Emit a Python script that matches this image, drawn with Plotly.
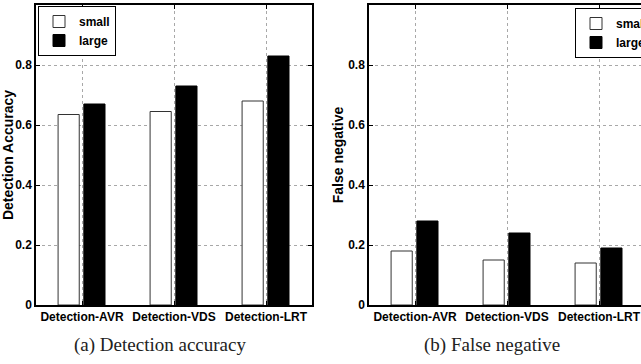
import plotly.graph_objects as go

categories = ["Detection-AVR", "Detection-VDS", "Detection-LRT"]
cat_pos = [1, 2, 3]
acc_small = [0.635, 0.645, 0.68]
acc_large = [0.67, 0.73, 0.83]
fn_small = [0.18, 0.15, 0.14]
fn_large = [0.28, 0.24, 0.19]
y_ticks = [0, 0.2, 0.4, 0.6, 0.8, 1]
y_tick_labels = ["0", "0.2", "0.4", "0.6", "0.8", "1"]

W, H = 641, 364
SANS = "Liberation Sans, Arial, Helvetica, sans-serif"
TFONT = dict(family=SANS, size=12, color="black", weight="bold")
TITLEFONT = dict(family=SANS, size=14, color="black", weight="bold")
CAPFONT = dict(family="Liberation Serif, Times New Roman, serif", size=19, color="#222")

def px_x(p):
    return p / W

def px_y(p):
    return 1 - p / H

fig = go.Figure()

bw = 0.23
fig.add_trace(go.Bar(x=cat_pos, y=acc_small, name="small", width=bw, offset=-0.26,
                     marker=dict(color="white", line=dict(color="#333", width=1)),
                     xaxis="x", yaxis="y", legend="legend"))
fig.add_trace(go.Bar(x=cat_pos, y=acc_large, name="large", width=bw, offset=0.02,
                     marker=dict(color="black", line=dict(color="black", width=1)),
                     xaxis="x", yaxis="y", legend="legend"))
fig.add_trace(go.Bar(x=cat_pos, y=fn_small, name="small", width=bw, offset=-0.26,
                     marker=dict(color="white", line=dict(color="#333", width=1)),
                     xaxis="x2", yaxis="y2", legend="legend2"))
fig.add_trace(go.Bar(x=cat_pos, y=fn_large, name="large", width=bw, offset=0.02,
                     marker=dict(color="black", line=dict(color="black", width=1)),
                     xaxis="x2", yaxis="y2", legend="legend2"))

grid = dict(showgrid=True, gridcolor="#a8a8a8", griddash="dot", gridwidth=1)

common_x = dict(tickvals=cat_pos, ticktext=categories, tickfont=TFONT, showline=True,
                linecolor="black", linewidth=1.5, ticks="inside", ticklen=4, tickcolor="black",
                zeroline=False, tickangle=0, automargin=False, **grid)
common_y = dict(range=[0, 1], tickvals=y_ticks, ticktext=y_tick_labels, tickfont=TFONT,
                showline=True, linecolor="black", linewidth=1.5, ticks="inside", ticklen=4,
                tickcolor="black", zeroline=False, automargin=False, **grid)

y_dom = [px_y(305), px_y(5)]

fig.update_layout(
    width=W, height=H,
    margin=dict(l=0, r=0, t=0, b=0, autoexpand=False),
    paper_bgcolor="white", plot_bgcolor="white",
    barmode="overlay",
    xaxis=dict(domain=[px_x(36), px_x(312)], range=[0.5, 3.5], mirror="allticks",
               anchor="y", **common_x),
    yaxis=dict(domain=y_dom, anchor="x", mirror="allticks",
               title=dict(text="Detection Accuracy", font=TITLEFONT, standoff=3),
               **common_y),
    xaxis2=dict(domain=[px_x(369), 1], range=[0.5, 0.5 + (641 - 369) / 92.0], mirror="allticks",
                anchor="y2", **common_x),
    yaxis2=dict(domain=y_dom, anchor="x2", mirror=False,
                title=dict(text="False negative", font=TITLEFONT, standoff=1),
                **common_y),
    legend=dict(x=px_x(38), y=px_y(6), xanchor="left", yanchor="top",
                bordercolor="black", borderwidth=1, bgcolor="white",
                font=TFONT, tracegroupgap=0, itemwidth=30),
    legend2=dict(x=px_x(575), y=px_y(8), xanchor="left", yanchor="top",
                 bordercolor="black", borderwidth=1, bgcolor="white",
                 font=TFONT, tracegroupgap=0, itemwidth=30),
    annotations=[
        dict(text="(a) Detection accuracy", x=px_x(160), y=px_y(345), xref="paper", yref="paper",
             xanchor="center", yanchor="middle", showarrow=False, font=CAPFONT),
        dict(text="(b) False negative", x=px_x(492), y=px_y(345), xref="paper", yref="paper",
             xanchor="center", yanchor="middle", showarrow=False, font=CAPFONT),
    ],
)

fig.write_html("out.html")
